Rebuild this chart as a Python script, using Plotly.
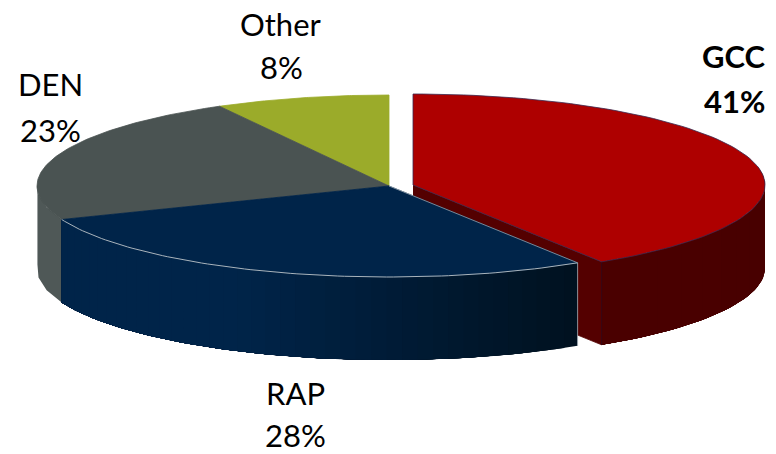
import numpy as np
import plotly.graph_objects as go

categories = ["GCC", "RAP", "DEN", "Other"]
shares = [41, 28, 23, 8]
top_colors = ["#AE0000", "#002449", "#4A5352", "#9BAB2A"]
label_pos = [(734, 56, 734, 101), (295, 393, 295, 435), (50, 84, 50, 130), (281, 24, 281, 67)]
label_bold = [True, False, False, False]

W, H = 776, 454
RX, RY, DEPTH = 352, 91, 83
CX, CY = 389, 186
GX, GY = 413, 185  # exploded GCC slice centre


def pt(cx, cy, a):
    return cx + RX * np.sin(a), cy + RY * np.cos(a) * -1


def mix(c1, c2, t):
    t = min(max(t, 0), 1)
    a = [int(c1[i:i + 2], 16) for i in (1, 3, 5)]
    b = [int(c2[i:i + 2], 16) for i in (1, 3, 5)]
    return "rgb(%d,%d,%d)" % tuple(round(p + (q - p) * t) for p, q in zip(a, b))


fig = go.Figure()


def poly(xs, ys, fill, line=None, width=0.8):
    fig.add_trace(go.Scatter(x=list(xs), y=list(ys), mode="lines", fill="toself",
                             fillcolor=fill, line=dict(color=line or fill, width=width),
                             hoverinfo="skip", showlegend=False))


def edge(xs, ys, color, width=1):
    fig.add_trace(go.Scatter(x=list(xs), y=list(ys), mode="lines",
                             line=dict(color=color, width=width),
                             hoverinfo="skip", showlegend=False))


def wedge(cx, cy, a0, a1, color, line=None):
    t = np.linspace(a0, a1, 90)
    x, y = pt(cx, cy, t)
    poly(np.r_[cx, x, cx], np.r_[cy, y, cy], color, line)


def side(cx, cy, a0, a1, c1, c2, x1, x2, n=36):
    # painted in overlapping bands: each band runs to the far end, so no seams show
    t = np.linspace(a0, a1, n + 1)
    xm = pt(cx, cy, t)[0]
    for i in range(n):
        s = np.linspace(t[i], a1, max(4, 3 * (n - i)))
        x, y = pt(cx, cy, s)
        col = mix(c1, c2, (0.5 * (xm[i] + xm[i + 1]) - x1) / (x2 - x1))
        fig.add_trace(go.Scatter(x=list(np.r_[x, x[::-1]]), y=list(np.r_[y, y[::-1] + DEPTH]),
                                 mode="lines", fill="toself", fillcolor=col,
                                 line=dict(width=0), hoverinfo="skip", showlegend=False))


cum = np.cumsum([0] + shares) / sum(shares) * 2 * np.pi
# GCC slice: outer wall, cut face, top
a0, a1 = cum[0], cum[1]
side(GX, GY, np.pi / 2 - 0.2, a1, "#4C0000", "#480000", 413, 766, 12)
tx, ty = pt(GX, GY, a1)
poly([GX, tx, tx, GX], [GY, ty, ty + DEPTH, GY + DEPTH], "#540000")
edge([tx, tx], [ty, ty + DEPTH], "#2A0A20", 0.7)
wedge(GX, GY, a0, a1, top_colors[0], "#3A2A50")

# DEN wall, then RAP wall (right to left, so that each band ends at the left rim)
side(CX, CY, cum[2], 3 * np.pi / 2 + 0.05, "#4F5857", "#4F5857", 0, 1, 1)
side(CX, CY, cum[1], cum[2], "#00111F", "#002449", 578, 240, 40)

# tops of remaining slices
wedge(CX, CY, cum[3], cum[4], top_colors[3])
wedge(CX, CY, cum[2], cum[3], top_colors[2])
wedge(CX, CY, cum[1], cum[2], top_colors[1])

# light rim on RAP
t = np.linspace(cum[1], cum[2], 90)
x, y = pt(CX, CY, t)
edge(x, y, "#A9B4BC", 1)
edge([CX, x[0]], [CY, y[0]], "#A9B4BC", 0.7)
edge([x[0], x[0]], [y[0], y[0] + DEPTH], "#A9B4BC", 0.8)

annotations = []
for cat, pct, (x1, y1, x2, y2), b in zip(categories, shares, label_pos, label_bold):
    for txt, ax, ay in ((cat, x1, y1), (f"{pct}%", x2, y2)):
        annotations.append(dict(x=ax, y=ay, xref="x", yref="y", text=f"<b>{txt}</b>" if b else txt,
                                showarrow=False, xanchor="center", yanchor="middle",
                                font=dict(family="Lato", size=31, color="#000000")))

fig.update_layout(width=W, height=H, margin=dict(l=0, r=0, t=0, b=0),
                  paper_bgcolor="white", plot_bgcolor="white", showlegend=False,
                  xaxis=dict(range=[0, W], visible=False, fixedrange=True),
                  yaxis=dict(range=[H, 0], visible=False, fixedrange=True),
                  annotations=annotations)
fig.write_html("out.html", config={"displayModeBar": False},
               post_script="document.body.style.margin='0';")
